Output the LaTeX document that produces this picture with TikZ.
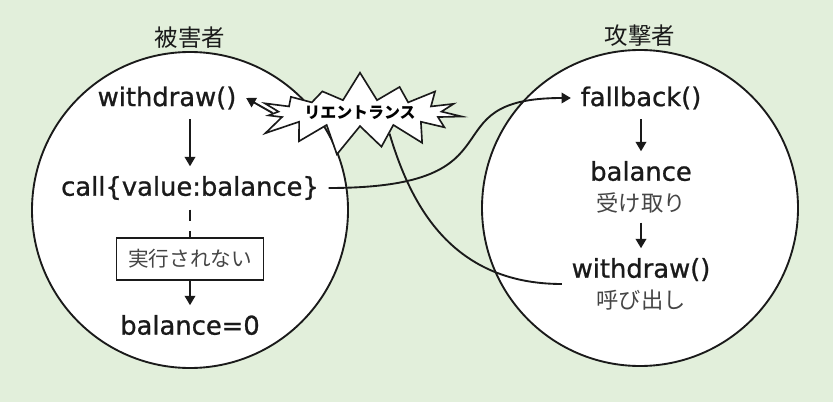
\documentclass[tikz,border=0pt]{standalone}
\usepackage{fontspec}
\setmainfont{DejaVu Sans}
\newfontfamily\codefont{DejaVu Sans}[BoldFont={DejaVu Sans}, BoldFeatures={FakeBold=0.9}]
\newfontfamily\jpfont{Noto Sans CJK JP}
\usetikzlibrary{positioning, calc, arrows.meta, shapes.symbols}
\definecolor{Paper}{HTML}{E2EFDB}
\definecolor{Ink}{HTML}{1A1A1A}
\definecolor{SoftInk}{HTML}{454545}
\tikzset{
    party/.style={circle, draw=Ink, line width=0.8pt, fill=white, minimum size=4.74cm, inner sep=0pt},
    partytitle/.style={font=\jpfont\fontsize{10}{12}\selectfont, text=Ink, inner sep=1pt},
    code/.style={font=\codefont\bfseries\fontsize{11}{13}\selectfont, text=Ink, align=center, inner sep=4pt},
    flow/.style={-{Triangle[length=4pt,width=4.5pt]}, line width=0.8pt, color=Ink},
    skipbox/.style={rectangle, draw=Ink, line width=0.6pt, fill=white, minimum width=2.2cm, minimum height=0.63cm,
                    font=\jpfont\fontsize{8.8}{10}\selectfont, text=SoftInk},
    burst/.style={starburst, draw=Ink, line width=0.7pt, fill=white, starburst points=15,
                  starburst point height=0.45cm, random starburst=7, minimum width=2.3cm, minimum height=0.4cm,
                  font=\jpfont\bfseries\fontsize{6.8}{8}\selectfont, inner sep=1pt},
}
\newcommand{\jpline}[1]{{\jpfont\mdseries\fontsize{9.5}{11}\selectfont\color{SoftInk}#1}}

\begin{document}
\begin{tikzpicture}

    % Sfondo
    \fill[Paper] (0,0) rectangle (12.495,6.03);
    \useasboundingbox (0,0) rectangle (12.495,6.03);

    % --- 1. VITTIMA ---
    \node[party] (victim) at (2.85, 2.88) {};
    \node[partytitle, above=0pt of victim.north] (victimtitle) {被害者};

    \node[code] (vwithdraw) at (2.505, 4.56) {withdraw()};
    \node[code] (vcall) at (2.85, 3.21) {call\{value:balance\}};
    \node[skipbox] (vskip) at (2.85, 2.145) {実行されない};
    \node[code] (vzero) at (2.85, 1.155) {balance=0};

    \draw[flow] (vwithdraw.south -| vcall.north) -- (vcall.north);
    \draw[line width=0.8pt, Ink, dash pattern=on 5pt off 4pt] (vcall.south) -- (vskip.north);
    \draw[flow] (vskip.south) -- (vzero.north);

    % --- 2. ATTACCANTE ---
    \node[party] (attacker) at (9.6, 2.91) {};
    \node[partytitle, above=0pt of attacker.north] (attackertitle) {攻撃者};

    \node[code] (afallback) at (9.615, 4.56) {fallback()};
    \node[code] (abalance) at (9.615, 3.225) {balance\\\jpline{受け取り}};
    \node[code] (awithdraw) at (9.615, 1.77) {withdraw()\\\jpline{呼び出し}};

    \draw[flow] (afallback) -- (abalance);
    \draw[flow] (abalance) -- (awithdraw);

    % Rientro
    \node[burst] (reentry) at (5.4, 4.335) {リエントランス};

    \draw[flow] (vcall.east) .. controls +(3.0,0) and +(-2.2,0) .. (afallback.west);
    \draw[line width=0.8pt, Ink] (awithdraw.west) .. controls +(-1.7,0) and +(0.3,-1.0) .. (reentry.-35);
    \draw[flow] (reentry.west) -- (vwithdraw.east);

\end{tikzpicture}
\end{document}
